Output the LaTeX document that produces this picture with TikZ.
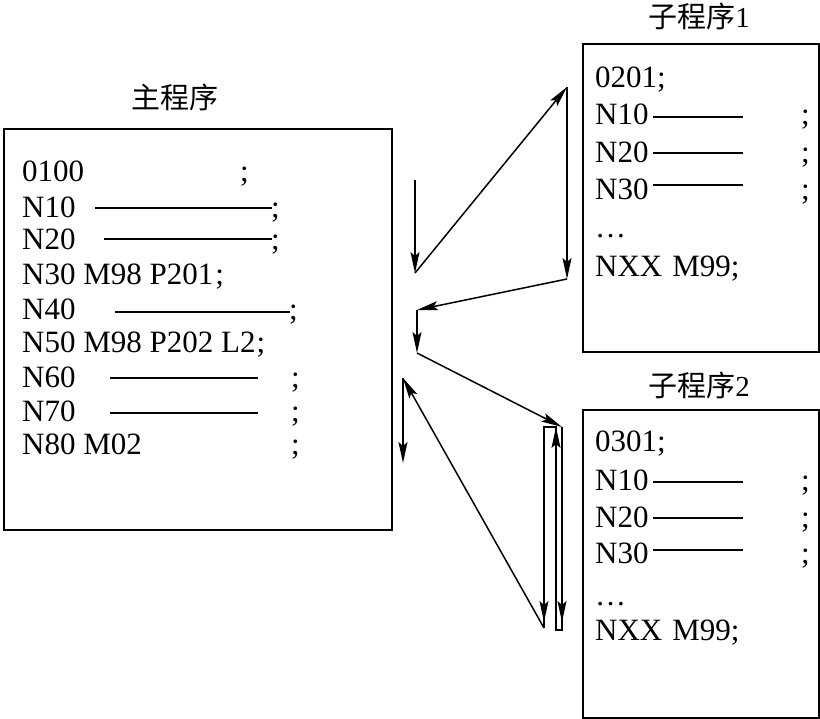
\documentclass[tikz,border=0pt]{standalone}
\usepackage{fontspec}
\setmainfont{Liberation Serif}
\newfontfamily\cjk{Noto Sans CJK SC}
\usetikzlibrary{arrows.meta}
\begin{document}
\begin{tikzpicture}[x=1pt,y=-1pt,
  box/.style={draw,line width=1.8pt,inner sep=0pt,anchor=north west},
  txt/.style={anchor=base west,inner sep=0pt,font=\fontsize{31}{34}\selectfont},
  ttl/.style={inner sep=0pt,font=\fontsize{29}{34}\selectfont},
  rulel/.style={line width=1.5pt},
  flow/.style={line width=1.5pt,-{Stealth[length=21pt,width=9pt,inset=4pt]}},
  plainl/.style={line width=1.5pt}]
\useasboundingbox (0,0) rectangle (820,719);

% boxes
\node[box,minimum width=388pt,minimum height=401pt] (mainbox) at (3,128) {};
\node[box,minimum width=236pt,minimum height=308pt] (subA) at (582,43) {};
\node[box,minimum width=236pt,minimum height=308pt] (subB) at (582,409) {};

% titles
\node[ttl] (t0) at (175,97) {\cjk 主程序};
\node[ttl] (t1) at (699,16) {{\cjk 子程序}1};
\node[ttl] (t2) at (699,385) {{\cjk 子程序}2};

% main program text
\node[txt] (m1) at (22,182) {0100};
\node[txt] (m1s) at (240,182) {;};
\node[txt] (m2) at (22,218) {N10};
\draw[rulel] (95,208) -- (272,208);
\node[txt] (m2s) at (271,218) {;};
\node[txt] (m3) at (22,250) {N20};
\draw[rulel] (104,239) -- (272,239);
\node[txt] (m3s) at (271,250) {;};
\node[txt] (m4) at (22,285) {N30 M98 P201\kern2pt;};
\node[txt] (m5) at (22,320) {N40};
\draw[rulel] (115,312) -- (290,312);
\node[txt] (m5s) at (289,320) {;};
\node[txt] (m6) at (22,353) {N50 M98 P202 L2\kern1pt;};
\node[txt] (m7) at (22,388) {N60};
\draw[rulel] (110,378) -- (258,378);
\node[txt] (m7s) at (291,388) {;};
\node[txt] (m8) at (22,422) {N70};
\draw[rulel] (110,413) -- (258,413);
\node[txt] (m8s) at (291,422) {;};
\node[txt] (m9) at (22,455) {N80 M02};
\node[txt] (m9s) at (291,455) {;};

% subprogram 1 text
\node[txt] (a1) at (595,88) {0201;};
\node[txt] (a2) at (595,125) {N10};
\draw[rulel] (653,117) -- (743,117);
\node[txt] (a2s) at (801,125) {;};
\node[txt] (a3) at (595,163) {N20};
\draw[rulel] (653,153) -- (743,153);
\node[txt] (a3s) at (801,163) {;};
\node[txt] (a4) at (595,200) {N30};
\draw[rulel] (653,185) -- (743,185);
\node[txt] (a4s) at (801,200) {;};
\node[txt] (a5) at (595,238) {…};
\node[txt] (a6) at (595,277) {NXX\kern10pt M99;};

% subprogram 2 text
\node[txt] (b1) at (595,452) {0301;};
\node[txt] (b2) at (595,490) {N10};
\draw[rulel] (653,482) -- (743,482);
\node[txt] (b2s) at (801,490) {;};
\node[txt] (b3) at (595,527) {N20};
\draw[rulel] (653,518) -- (743,518);
\node[txt] (b3s) at (801,527) {;};
\node[txt] (b4) at (595,563) {N30};
\draw[rulel] (653,550) -- (743,550);
\node[txt] (b4s) at (801,563) {;};
\node[txt] (b5) at (595,605) {…};
\node[txt] (b6) at (595,640) {NXX\kern10pt M99;};

% flow coordinates
\coordinate (p0) at (415,180);
\coordinate (p1) at (415,273);
\coordinate (p2) at (567,87);
\coordinate (p3) at (567,279);
\coordinate (p4) at (417,310);
\coordinate (p5) at (417,353);
\coordinate (q1) at (562,427);
\coordinate (q2) at (562,630);
\coordinate (q2t) at (562,622);
\coordinate (q3) at (556,630);
\coordinate (q4) at (556,427);
\coordinate (q5) at (544,427);
\coordinate (q6) at (544,628);
\coordinate (q6t) at (544,622);
\coordinate (r0) at (403,378);
\coordinate (r1) at (403,463);

% flow arrows
\draw[flow] (p0) -- (p1);
\draw[flow] (p1) -- (p2);
\draw[flow] (p2) -- (p3);
\draw[flow] (p3) -- (p4);
\draw[flow] (p4) -- (p5);
\draw[flow] (p5) -- (q1);
\draw[plainl] (q1) -- (q2) -- (q3) -- (q4) -- (q5) -- (q6);
\draw[flow] (q1) -- (q2t);
\draw[flow] (q3) -- (q4);
\draw[flow] (q5) -- (q6t);
\draw[flow] (q6) -- (r0);
\draw[flow] (r0) -- (r1);
\end{tikzpicture}
\end{document}
